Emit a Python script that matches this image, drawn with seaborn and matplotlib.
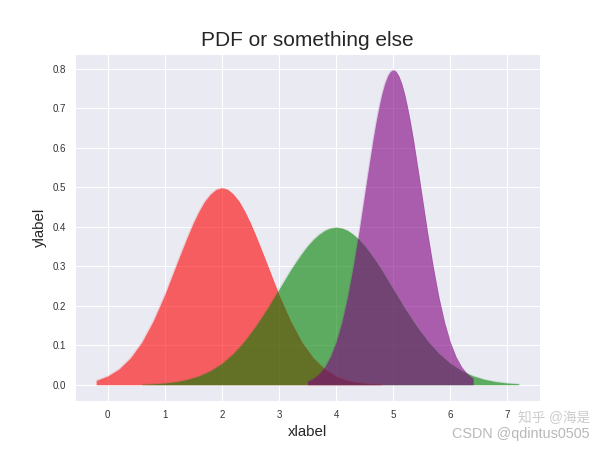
import numpy as np
import pandas as pd
import seaborn as sns
import matplotlib.pyplot as plt

# values
red_x = [-0.2, 0.0, 0.2, 0.4, 0.6, 0.8, 1.0, 1.2, 1.3, 1.4, 1.5, 1.6, 1.7, 1.8, 1.9, 2.0,
         2.1, 2.2, 2.3, 2.4, 2.5, 2.6, 2.7, 2.8, 3.0, 3.2, 3.4, 3.6, 3.8, 4.0, 4.2, 4.4, 4.6, 4.8]
red_y = [0.011, 0.022, 0.040, 0.068, 0.108, 0.162, 0.228, 0.303, 0.340, 0.376, 0.410, 0.440,
         0.465, 0.483, 0.495, 0.499, 0.495, 0.483, 0.465, 0.440, 0.410, 0.376, 0.340, 0.303,
         0.228, 0.162, 0.108, 0.068, 0.040, 0.022, 0.011, 0.0055, 0.0025, 0.0011]

green_x = [0.6, 0.8, 1.0, 1.2, 1.4, 1.6, 1.8, 2.0, 2.2, 2.4, 2.6, 2.8, 3.0, 3.2, 3.3, 3.4, 3.5,
           3.6, 3.7, 3.8, 3.9, 4.0, 4.1, 4.2, 4.3, 4.4, 4.5, 4.6, 4.7, 4.8, 5.0, 5.2, 5.4, 5.6,
           5.8, 6.0, 6.2, 6.4, 6.6, 6.8, 7.0, 7.2]
green_y = [0.0012, 0.0024, 0.0044, 0.0079, 0.0136, 0.0224, 0.0355, 0.054, 0.079, 0.111, 0.150,
           0.194, 0.242, 0.290, 0.312, 0.333, 0.352, 0.368, 0.381, 0.391, 0.397, 0.399, 0.397,
           0.391, 0.381, 0.368, 0.352, 0.333, 0.312, 0.290, 0.242, 0.194, 0.150, 0.111, 0.079,
           0.054, 0.0355, 0.0224, 0.0136, 0.0079, 0.0044, 0.0024]

purple_x = [3.5, 3.6, 3.7, 3.8, 3.9, 4.0, 4.1, 4.2, 4.3, 4.4, 4.5, 4.55, 4.6, 4.65, 4.7, 4.75,
            4.8, 4.85, 4.9, 4.95, 5.0, 5.05, 5.1, 5.15, 5.2, 5.25, 5.3, 5.35, 5.4, 5.45, 5.5,
            5.6, 5.7, 5.8, 5.9, 6.0, 6.1, 6.2, 6.3, 6.4]
purple_y = [0.0089, 0.0158, 0.0272, 0.0448, 0.071, 0.108, 0.158, 0.222, 0.300, 0.388, 0.484,
            0.532, 0.579, 0.625, 0.667, 0.704, 0.737, 0.763, 0.782, 0.794, 0.798, 0.794, 0.782,
            0.763, 0.737, 0.704, 0.667, 0.625, 0.579, 0.532, 0.484, 0.388, 0.300, 0.222, 0.158,
            0.108, 0.071, 0.0448, 0.0272, 0.0158]

series = [("red", red_x, red_y), ("green", green_x, green_y), ("purple", purple_x, purple_y)]

sns.set_style("darkgrid")
plt.rcParams['font.family'] = ['Liberation Sans', 'Noto Sans CJK SC', 'DejaVu Sans']

fig, ax = plt.subplots(figsize=(6.4, 4.8), dpi=93.75)

for color, xs, ys in series:
    df = pd.DataFrame({"x": xs, "y": ys})
    ax.fill_between(df["x"], df["y"], color=color, alpha=0.6, linewidth=0)
    sns.lineplot(data=df, x="x", y="y", color=color, alpha=0.15, linewidth=0.6, ax=ax)

ax.set_title("PDF or something else", fontsize=16)
ax.set_xlabel("xlabel", fontsize=11.5)
ax.set_ylabel("ylabel", fontsize=11.5)
ax.tick_params(labelsize=7.5, labelcolor="#333333")
ax.margins(x=0.05, y=0.05)

# watermark
fig.text(0.983, 0.055, "知乎 @海是", ha="right", va="bottom", fontsize=10.5, color="#cccccc")
fig.text(0.983, 0.02, "CSDN @qdintus0505", ha="right", va="bottom", fontsize=11, color="#b8b8b8")

fig.savefig("out.png", dpi=93.75)
